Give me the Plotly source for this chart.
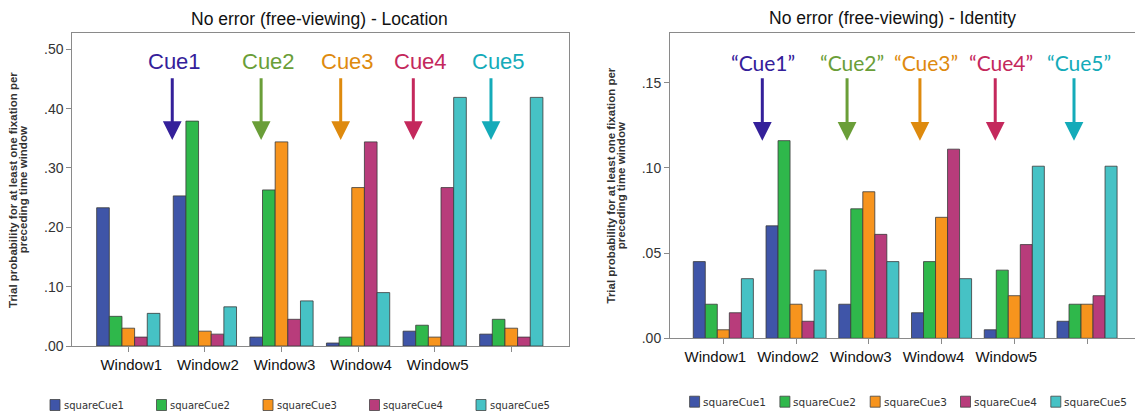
import plotly.graph_objects as go
from plotly.subplots import make_subplots

# ---------------- data ----------------
window_labels = ["Window1", "Window2", "Window3", "Window4", "Window5", ""]
group_index = [0, 1, 2, 3, 4, 5]
series_names = ["squareCue1", "squareCue2", "squareCue3", "squareCue4", "squareCue5"]

location_cue1 = [0.233, 0.253, 0.015, 0.005, 0.025, 0.020]
location_cue2 = [0.050, 0.379, 0.263, 0.015, 0.035, 0.045]
location_cue3 = [0.030, 0.025, 0.344, 0.267, 0.015, 0.030]
location_cue4 = [0.015, 0.020, 0.045, 0.344, 0.267, 0.015]
location_cue5 = [0.055, 0.066, 0.076, 0.090, 0.419, 0.419]

identity_cue1 = [0.045, 0.066, 0.020, 0.015, 0.005, 0.010]
identity_cue2 = [0.020, 0.116, 0.076, 0.045, 0.040, 0.020]
identity_cue3 = [0.005, 0.020, 0.086, 0.071, 0.025, 0.020]
identity_cue4 = [0.015, 0.010, 0.061, 0.111, 0.055, 0.025]
identity_cue5 = [0.035, 0.040, 0.045, 0.035, 0.101, 0.101]

location_ticks = [0.0, 0.1, 0.2, 0.3, 0.4, 0.5]
location_ticktext = [".00", ".10", ".20", ".30", ".40", ".50"]
identity_ticks = [0.0, 0.05, 0.10, 0.15]
identity_ticktext = [".00", ".05", ".10", ".15"]

left_title = "No error (free-viewing) - Location"
right_title = "No error (free-viewing) - Identity"
y_title_lines = ["<b>Trial probability for at least one fixation per</b>",
                 "<b>preceding time window</b>"]

cue_labels_left = ["Cue1", "Cue2", "Cue3", "Cue4", "Cue5"]
cue_labels_right = ["\u201cCue1\u201d", "\u201cCue2\u201d", "\u201cCue3\u201d", "\u201cCue4\u201d", "\u201cCue5\u201d"]
# arrow / label x positions in group units, arrow tail/tip and label heights in data units
cue_arrow_x_left = [0.574, 1.734, 2.773, 3.721, 4.735]
cue_text_x_left = [0.597, 1.830, 2.868, 3.815, 4.830]
cue_arrow_y_left = [0.4538, 0.3472]
cue_text_y_left = 0.479
cue_arrow_x_right = [0.536, 1.701, 2.703, 3.738, 4.821]
cue_text_x_right = [0.550, 1.769, 2.783, 3.812, 4.894]
cue_arrow_y_right = [0.1535, 0.1159]
cue_text_y_right = 0.1617

bar_colors = ["#3f55a8", "#2fb84b", "#f7941d", "#b83c7b", "#46c2c5"]
cue_colors = ["#34209a", "#6a9e38", "#de8a0e", "#c4285c", "#14abb9"]

location_series = [location_cue1, location_cue2, location_cue3, location_cue4, location_cue5]
identity_series = [identity_cue1, identity_cue2, identity_cue3, identity_cue4, identity_cue5]

# page body has an 8px default margin; size the figure so the page is 1143x413
OFF = 8
W, H = 1143 - OFF, 413 - OFF


def px(x):
    return (x - OFF) / W


def py(y):
    return 1 - (y - OFF) / H


fig = make_subplots(rows=1, cols=2)

for i, name in enumerate(series_names):
    fig.add_trace(go.Bar(x=group_index, y=location_series[i], name=name,
                         marker=dict(color=bar_colors[i], line=dict(color="#3a3a3a", width=0.8)),
                         showlegend=False), row=1, col=1)
for i, name in enumerate(series_names):
    fig.add_trace(go.Bar(x=group_index, y=identity_series[i], name=name,
                         marker=dict(color=bar_colors[i], line=dict(color="#3a3a3a", width=0.8)),
                         showlegend=False), row=1, col=2)

axis_common = dict(showline=True, linecolor="#8a8a8a", linewidth=1, mirror=True,
                   showgrid=False, zeroline=False, ticks="outside", ticklen=5,
                   tickcolor="#8a8a8a", automargin=False)

fig.update_xaxes(**axis_common, tickvals=group_index, ticktext=window_labels,
                 tickfont=dict(size=15, color="#111111",
                               family="Liberation Sans, Arial, sans-serif"))
fig.update_xaxes(domain=[px(72.3), px(568.5)], range=[-0.731, 5.747],
                 ticklabelshift=3, row=1, col=1)
fig.update_xaxes(domain=[px(670), px(1141.3)], range=[-0.733, 5.746],
                 ticklabelshift=-8, row=1, col=2)

fig.update_yaxes(**axis_common, tickfont=dict(size=14, color="#333333",
                 family="Liberation Sans, Arial, sans-serif"))
fig.update_yaxes(domain=[py(346), py(33.3)], range=[0, 0.527],
                 tickvals=location_ticks, ticktext=location_ticktext, row=1, col=1)
fig.update_yaxes(domain=[py(338.3), py(33.3)], range=[0, 0.179],
                 tickvals=identity_ticks, ticktext=identity_ticktext, row=1, col=2)

annotations = []
shapes = []
title_font = dict(size=17.5, color="#111111", family="Liberation Sans, Arial, sans-serif")
annotations.append(dict(text=left_title, x=px(319), y=py(19), xref="paper", yref="paper",
                        xanchor="center", yanchor="middle", showarrow=False, font=title_font))
annotations.append(dict(text=right_title, x=px(892.5), y=py(18.5), xref="paper", yref="paper",
                        xanchor="center", yanchor="middle", showarrow=False, font=title_font))
ytitle_font = dict(size=11.5, color="#333333", family="Liberation Sans, Arial, sans-serif")
for line, xl, xr in zip(y_title_lines, [13, 23.3], [610.5, 621.3]):
    annotations.append(dict(text=line, x=px(xl), y=py(190), xref="paper", yref="paper",
                            xanchor="center", yanchor="middle", textangle=-90,
                            showarrow=False, font=ytitle_font))
    annotations.append(dict(text=line, x=px(xr), y=py(186), xref="paper", yref="paper",
                            xanchor="center", yanchor="middle", textangle=-90,
                            showarrow=False, font=ytitle_font))

for i in range(5):
    annotations.append(dict(text=cue_labels_left[i], x=cue_text_x_left[i], y=cue_text_y_left,
                            xref="x", yref="y", xanchor="center", yanchor="middle",
                            showarrow=False,
                            font=dict(size=22, color=cue_colors[i],
                                      family="Liberation Sans, Arial, sans-serif")))
    annotations.append(dict(text="", x=cue_arrow_x_left[i], y=cue_arrow_y_left[1],
                            ax=cue_arrow_x_left[i], ay=cue_arrow_y_left[0],
                            xref="x", yref="y", axref="x", ayref="y",
                            showarrow=True, arrowhead=2, arrowsize=1.25, arrowwidth=3,
                            arrowcolor=cue_colors[i], standoff=0))
for i in range(5):
    annotations.append(dict(text=cue_labels_right[i], x=cue_text_x_right[i], y=cue_text_y_right,
                            xref="x2", yref="y2", xanchor="center", yanchor="middle",
                            showarrow=False,
                            font=dict(size=21, color=cue_colors[i], family="Lato, sans-serif")))
    annotations.append(dict(text="", x=cue_arrow_x_right[i], y=cue_arrow_y_right[1],
                            ax=cue_arrow_x_right[i], ay=cue_arrow_y_right[0],
                            xref="x2", yref="y2", axref="x2", ayref="y2",
                            showarrow=True, arrowhead=2, arrowsize=1.25, arrowwidth=3,
                            arrowcolor=cue_colors[i], standoff=0))

# legends (one under each chart): swatch + label per series
legend_specs = [
    dict(start=50.0, step=106.5, yc=405.0, font=10.0),
    dict(start=689.6, step=90.3, yc=401.7, font=10.5),
]
SW, SH = 10.0, 11.0
for spec in legend_specs:
    for i, name in enumerate(series_names):
        x0 = spec["start"] + i * spec["step"]
        shapes.append(dict(type="rect", xref="paper", yref="paper",
                           x0=px(x0), x1=px(x0 + SW),
                           y0=py(spec["yc"] + SH / 2), y1=py(spec["yc"] - SH / 2),
                           fillcolor=bar_colors[i], line=dict(color="#444444", width=0.8)))
        annotations.append(dict(text=name, x=px(x0 + SW + 1.5), y=py(spec["yc"]),
                                xref="paper", yref="paper", xanchor="left", yanchor="middle",
                                showarrow=False,
                                font=dict(size=spec["font"], color="#333333",
                                          family="DejaVu Sans, sans-serif")))

fig.update_layout(
    width=W, height=H,
    margin=dict(l=0, r=0, t=0, b=0),
    paper_bgcolor="white", plot_bgcolor="white",
    barmode="group", bargap=0.174, bargroupgap=0,
    annotations=annotations, shapes=shapes,
    showlegend=False,
)

fig.write_html("out.html")
